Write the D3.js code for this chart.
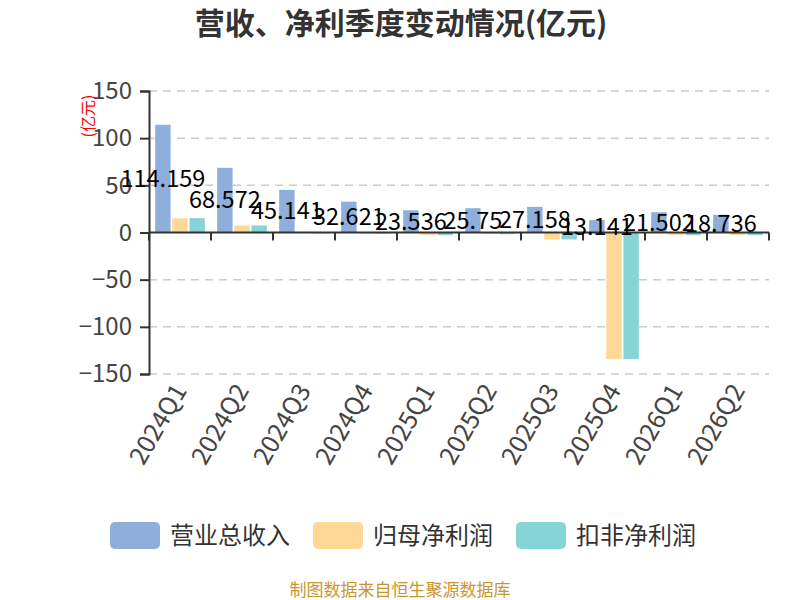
<!DOCTYPE html>
<html>
<head>
<meta charset="utf-8">
<script src="https://cdn.jsdelivr.net/npm/d3@7"></script>
<style>
  body { margin: 0; background: #fff; }
  svg { font-family: "Noto Sans CJK SC", "Noto Sans", sans-serif; }
</style>
</head>
<body>
<div id="vis"></div>
<script>
// quarters and values (亿元)
var quarters = ["2024Q1","2024Q2","2024Q3","2024Q4","2025Q1","2025Q2","2025Q3","2025Q4","2026Q1","2026Q2"];
var revenue  = [114.159, 68.572, 45.141, 32.621, 23.536, 25.75, 27.158, 13.141, 21.502, 18.736];
var netProfit = [15.1, 7.4, -0.6, -1.0, -2.6, -1.6, -7.4, -134.2, -2.6, -2.6];
var deductedProfit = [15.2, 7.5, -0.9, -1.2, -2.8, -1.8, -7.4, -134.2, -2.8, -2.8];
var seriesNames = ["营业总收入", "归母净利润", "扣非净利润"];
var colors = ["#8eaedb", "#fed897", "#87d4d7"];
var yTicks = [-150, -100, -50, 0, 50, 100, 150];

var W = 800, H = 600;
var gLeft = 149, gRight = 769, gTop = 91, gBottom = 374;

var svg = d3.select("#vis").append("svg")
    .attr("width", W)
    .attr("height", H);

// title
svg.append("text")
    .attr("x", 401).attr("y", 34)
    .attr("text-anchor", "middle")
    .style("font-size", "30px").style("font-weight", "bold")
    .attr("fill", "#333")
    .text("营收、净利季度变动情况(亿元)");

var y = d3.scaleLinear().domain([-150, 150]).range([gBottom, gTop]);
var x0 = d3.scaleBand().domain(quarters).range([gLeft, gRight]);
var x1 = d3.scaleBand().domain(seriesNames).range([0, x0.bandwidth()])
    .paddingInner(0.1).paddingOuter(0.36);

// grid
svg.append("g").selectAll("line").data(yTicks.filter(function(d){ return d != 0; }))
  .enter().append("line")
    .attr("x1", gLeft).attr("x2", gRight)
    .attr("y1", function(d){ return y(d); }).attr("y2", function(d){ return y(d); })
    .attr("stroke", "#ccc").attr("stroke-width", 1.5)
    .attr("stroke-dasharray", "8,6");

// y axis
var yAxis = svg.append("g")
    .attr("transform", "translate(" + gLeft + ",0)")
    .call(d3.axisLeft(y).tickValues(yTicks).tickSize(9).tickPadding(8));
yAxis.select(".domain").attr("stroke", "#333").attr("stroke-width", 2);
yAxis.selectAll(".tick line").attr("stroke", "#333").attr("stroke-width", 2);
yAxis.selectAll(".tick text")
    .attr("fill", "#444")
    .style("font-size", "24px")
    .style("font-family", "'Noto Sans CJK SC', sans-serif");

// y axis name
svg.append("text")
    .attr("transform", "translate(88,116) rotate(-90)")
    .attr("text-anchor", "middle").attr("dy", "0.35em")
    .attr("fill", "red")
    .style("font-size", "16px")
    .text("(亿元)");

// bars
var rows = quarters.map(function(q, i) {
  return { q: q, vals: [revenue[i], netProfit[i], deductedProfit[i]] };
});

var groups = svg.append("g").selectAll("g").data(rows).enter().append("g")
    .attr("transform", function(d){ return "translate(" + x0(d.q) + ",0)"; });

groups.selectAll("rect")
  .data(function(d){ return d.vals.map(function(v, j){ return { name: seriesNames[j], v: v, j: j }; }); })
  .enter().append("rect")
    .attr("x", function(d){ return x1(d.name); })
    .attr("width", x1.bandwidth())
    .attr("y", function(d){ return y(Math.max(0, d.v)); })
    .attr("height", function(d){ return Math.abs(y(d.v) - y(0)); })
    .attr("fill", function(d){ return colors[d.j]; });

// x axis line at zero
var xAxis = svg.append("g")
    .attr("transform", "translate(0," + y(0) + ")");
xAxis.append("line")
    .attr("x1", gLeft).attr("x2", gRight)
    .attr("stroke", "#333").attr("stroke-width", 2);
xAxis.selectAll(".tk").data(d3.range(quarters.length + 1)).enter().append("line")
    .attr("class", "tk")
    .attr("x1", function(i){ return gLeft + i * x0.step(); })
    .attr("x2", function(i){ return gLeft + i * x0.step(); })
    .attr("y1", 0).attr("y2", 8)
    .attr("stroke", "#333").attr("stroke-width", 2);

// x labels at bottom
svg.append("g").selectAll("text").data(quarters).enter().append("text")
    .attr("transform", function(d){
      return "translate(" + (x0(d) + x0.bandwidth() / 2) + "," + (gBottom + 12) + ") rotate(-60)";
    })
    .attr("text-anchor", "end").attr("dy", "0.35em")
    .attr("fill", "#444")
    .style("font-size", "25px")
    .text(function(d){ return d; });

// value labels on revenue bars
svg.append("g").selectAll("text").data(rows).enter().append("text")
    .attr("x", function(d){ return x0(d.q) + x1(seriesNames[0]) + x1.bandwidth() / 2; })
    .attr("y", function(d){ return (y(d.vals[0]) + y(0)) / 2; })
    .attr("text-anchor", "middle").attr("dy", "0.35em")
    .attr("fill", "#000")
    .style("font-size", "23.5px")
    .text(function(d){ return d.vals[0]; });

// legend
var lx = [110, 313, 516];
var legend = svg.append("g").selectAll("g").data(seriesNames).enter().append("g")
    .attr("transform", function(d, i){ return "translate(" + lx[i] + ",522)"; });
legend.append("rect")
    .attr("width", 50).attr("height", 27).attr("rx", 5)
    .attr("fill", function(d, i){ return colors[i]; });
legend.append("text")
    .attr("x", 60).attr("y", 13.5).attr("dy", "0.35em")
    .attr("fill", "#333")
    .style("font-size", "24px")
    .text(function(d){ return d; });

// source
svg.append("text")
    .attr("x", 400).attr("y", 590)
    .attr("text-anchor", "middle").attr("dy", "0.35em")
    .attr("fill", "#c9962c")
    .style("font-size", "17px")
    .text("制图数据来自恒生聚源数据库");
</script>
</body>
</html>
